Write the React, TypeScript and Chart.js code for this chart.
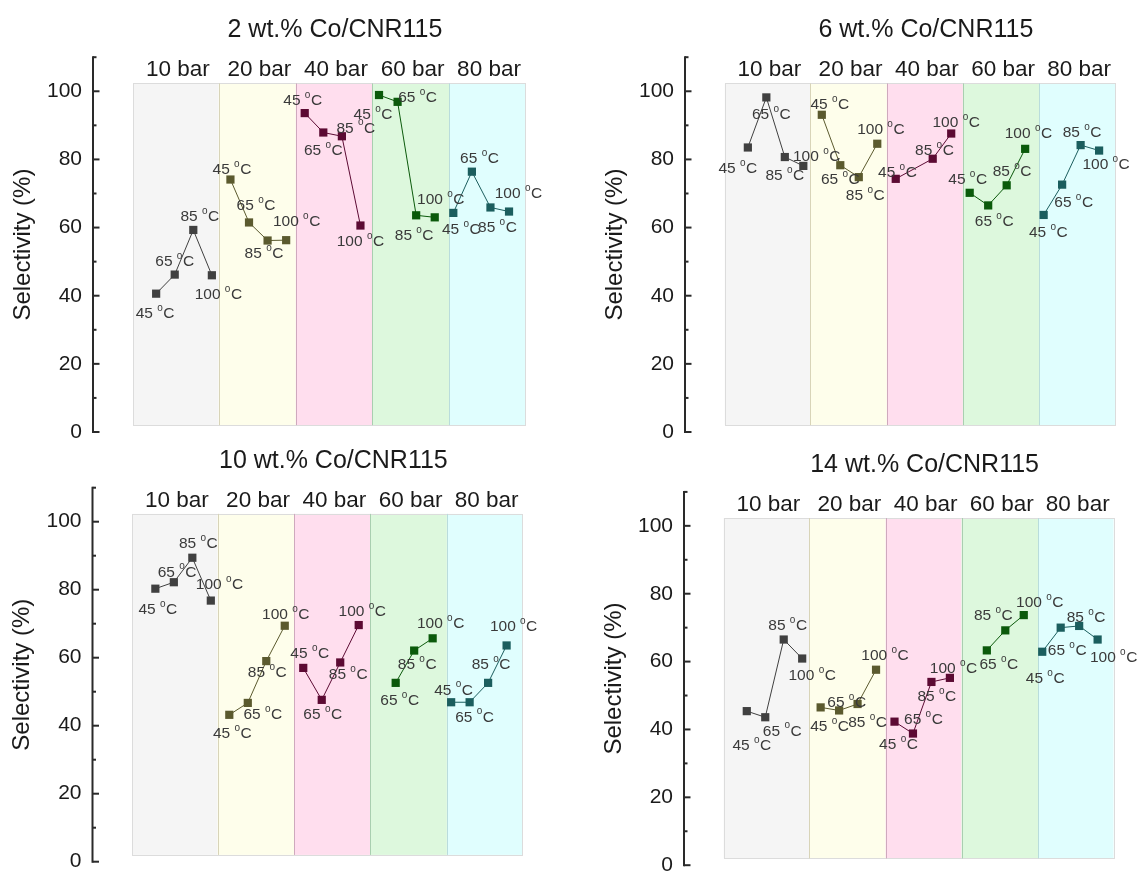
import React, { useEffect, useRef } from 'react';
import { Chart, registerables } from 'chart.js';

Chart.register(...registerables);

// ---------------- DATA ----------------
const pressures = ['10 bar', '20 bar', '40 bar', '60 bar', '80 bar'];
const temperatures = ['45', '65', '85', '100'];
const panelTitles = ['2 wt.% Co/CNR115', '6 wt.% Co/CNR115', '10 wt.% Co/CNR115', '14 wt.% Co/CNR115'];
const yAxisTitle = 'Selectivity (%)';
const yTickValues = [0, 20, 40, 60, 80, 100];
const yMinorValues = [10, 30, 50, 70, 90, 110];

// Selectivity (%), 4 temperatures (45, 65, 85, 100 °C) for each pressure in order 10, 20, 40, 60, 80 bar
const sel2wt = [40.6, 46.2, 59.3, 46.0, 74.1, 61.5, 56.2, 56.3, 93.6, 87.9, 86.8, 60.6, 98.9, 96.9, 63.6, 63.0, 64.3, 76.4, 65.9, 64.7];
const sel6wt = [83.5, 98.2, 80.7, 78.1, 93.1, 78.3, 74.8, 84.6, 74.3, null, 80.2, 87.6, 70.2, 66.5, 72.4, 83.1, 63.7, 72.6, 84.2, 82.6];
const sel10wt = [80.3, 82.2, 89.4, 76.8, 43.2, 46.7, 59.0, 69.4, 57.0, 47.6, 58.6, 69.6, null, 52.6, 62.1, 65.7, 46.9, 46.9, 52.6, 63.6];
const sel14wt = [45.4, 43.6, 66.5, 60.9, 46.5, 45.6, 47.5, 57.6, 42.3, 38.8, 54.0, 55.2, null, 63.3, 69.2, 73.7, 62.9, 70.0, 70.5, 66.5];
const panelValues: (number | null)[][] = [sel2wt, sel6wt, sel10wt, sel14wt];

// ---------------- LAYOUT / STYLE ----------------
const FONT = '"Liberation Sans", Arial, Helvetica, sans-serif';
const xMin = -2.4;
const xMax = 20.86;
const bandEdges = [-0.25, 4.37, 8.52, 12.63, 16.77, 20.86];
const bandRange = [2, 102.3];
const bandFills = ['#f5f5f5', '#fefeeb', '#ffdeee', '#ddf8dd', '#e0fefe'];
const bandLines = ['#c9c9c9', '#d8d4b8', '#cfa9bd', '#a9cfb0', '#b9dcdc'];
const markerColors = ['#404040', '#5b5a2e', '#5c0a33', '#0b5a0b', '#1b5e5e'];

const panelBoxes = [
  { axisX: 93, y0: 432, y110: 57.2, right: 525 },
  { axisX: 685, y0: 432, y110: 57.2, right: 1115 },
  { axisX: 92.5, y0: 861.7, y110: 487.7, right: 522.5 },
  { axisX: 684, y0: 866.7, y110: 491.9, right: 1113.5 },
];

// label offsets (px) from each point to the centre of its temperature label
const labelOffsets2 = [
  [-1, 20], [0, -13], [6.5, -13], [6.5, 19],
  [1.5, -10], [7, -17], [-3.6, 13], [10.5, -18],
  [-2, -12], [0, 18.7], [14, -8], [0, 16],
  [-6, 20], [20, -4], [-2, 20], [6, -18],
  [8, 17], [7.6, -13], [7, 20], [9.4, -18],
];
const labelOffsets6 = [
  [-10, 21.7], [5, 17], [0, 19], [13.4, -9],
  [8, -10], [0, 15], [6.5, 19], [3.6, -14],
  [1.7, -6], [0, 0], [1.7, -8], [5, -11],
  [-2, -13], [6, 16], [5.4, -14], [3.3, -15],
  [4.7, 18], [11.6, 18], [1.5, -12], [7, 14],
];
const labelOffsets10 = [
  [2.5, 21], [3.3, -10], [6, -14], [8.7, -16],
  [3, 19], [15, 12], [1, 12], [1, -11],
  [6.5, -14], [1, 15], [8, 12], [3.6, -13],
  [0, 0], [4, 18], [3, 14], [8, -15],
  [2.5, -12], [5, 15], [3, -18], [7, -19],
];
const labelOffsets14 = [
  [5, 35], [17, 14], [4, -14], [10, 17],
  [9, 19], [7.6, -8], [10, 19], [9, -14],
  [4, 23], [10.5, -14], [5.4, 15], [3.6, -9],
  [0, 0], [12, 14], [-12, -15], [16, -12],
  [3, 27], [6.5, 23], [7, -8], [16, 18],
];
const panelLabelOffsets = [labelOffsets2, labelOffsets6, labelOffsets10, labelOffsets14];

function drawTempLabel(ctx: CanvasRenderingContext2D, t: string, cx: number, cy: number) {
  const main = `15.5px ${FONT}`;
  const sup = `10px ${FONT}`;
  ctx.font = main;
  const w1 = ctx.measureText(t + ' ').width;
  const w3 = ctx.measureText('C').width;
  ctx.font = sup;
  const w2 = ctx.measureText('o').width + 0.5;
  let x = cx - (w1 + w2 + w3) / 2;
  ctx.textAlign = 'left';
  ctx.textBaseline = 'middle';
  ctx.fillStyle = '#3a3a3a';
  ctx.font = main;
  ctx.fillText(t + ' ', x, cy);
  x += w1;
  ctx.font = sup;
  ctx.fillText('o', x, cy - 5.5);
  x += w2;
  ctx.font = main;
  ctx.fillText('C', x, cy);
}

function buildConfig(pi: number): any {
  const values = panelValues[pi];
  const box = panelBoxes[pi];
  const offsets = panelLabelOffsets[pi];

  const datasets = pressures.map((p, g) => ({
    label: p,
    data: temperatures.map((t, k) => ({ x: g * 4 + k + 1, y: values[g * 4 + k] })),
    showLine: true,
    spanGaps: true,
    borderColor: markerColors[g],
    borderWidth: 1,
    backgroundColor: markerColors[g],
    pointStyle: 'rect',
    pointRadius: 5.8,
    pointBorderWidth: 0,
    pointBackgroundColor: markerColors[g],
    clip: false,
  }));

  const decor = {
    id: 'decor' + pi,
    beforeDatasetsDraw(chart: any) {
      const ctx = chart.ctx as CanvasRenderingContext2D;
      const xs = chart.scales.x;
      const ys = chart.scales.y;
      const top = ys.getPixelForValue(bandRange[1]);
      const bottom = ys.getPixelForValue(bandRange[0]);
      ctx.save();
      for (let g = 0; g < pressures.length; g++) {
        const l = xs.getPixelForValue(bandEdges[g]);
        const r = xs.getPixelForValue(bandEdges[g + 1]);
        ctx.fillStyle = bandFills[g];
        ctx.fillRect(l, top, r - l, bottom - top);
      }
      // outline
      ctx.strokeStyle = '#dcdcdc';
      ctx.lineWidth = 1;
      const L = xs.getPixelForValue(bandEdges[0]);
      const R = xs.getPixelForValue(bandEdges[bandEdges.length - 1]);
      ctx.strokeRect(Math.round(L) + 0.5, Math.round(top) + 0.5, Math.round(R - L), Math.round(bottom - top));
      for (let g = 1; g < pressures.length; g++) {
        const x = Math.round(xs.getPixelForValue(bandEdges[g])) + 0.5;
        ctx.strokeStyle = bandLines[g];
        ctx.beginPath();
        ctx.moveTo(x, top);
        ctx.lineTo(x, bottom);
        ctx.stroke();
      }
      // y axis line and inward ticks
      const ax = chart.chartArea.left;
      ctx.strokeStyle = '#2a2a2a';
      ctx.lineWidth = 2;
      ctx.beginPath();
      ctx.moveTo(ax, ys.getPixelForValue(0) + 1);
      ctx.lineTo(ax, ys.getPixelForValue(110) - 1);
      ctx.stroke();
      yTickValues.forEach((v) => {
        const y = ys.getPixelForValue(v);
        ctx.beginPath();
        ctx.moveTo(ax, y);
        ctx.lineTo(ax + 6.5, y);
        ctx.stroke();
      });
      yMinorValues.forEach((v) => {
        const y = ys.getPixelForValue(v);
        ctx.beginPath();
        ctx.moveTo(ax, y);
        ctx.lineTo(ax + 3.5, y);
        ctx.stroke();
      });
      // panel title
      const bandMid = (L + R) / 2;
      const y110 = ys.getPixelForValue(110);
      ctx.fillStyle = '#1a1a1a';
      ctx.textAlign = 'center';
      ctx.textBaseline = 'middle';
      ctx.font = `25px ${FONT}`;
      ctx.fillText(panelTitles[pi], bandMid + 6, y110 - 27);
      // pressure labels
      ctx.font = `22.5px ${FONT}`;
      for (let g = 0; g < pressures.length; g++) {
        const l = xs.getPixelForValue(bandEdges[g]);
        const r = xs.getPixelForValue(bandEdges[g + 1]);
        ctx.fillText(pressures[g], (l + r) / 2 + 2, y110 + 13);
      }
      // y axis title
      ctx.save();
      ctx.translate(ax - 70, ys.getPixelForValue(55));
      ctx.rotate(-Math.PI / 2);
      ctx.font = `24px ${FONT}`;
      ctx.fillText(yAxisTitle, 0, 0);
      ctx.restore();
      ctx.restore();
    },
    afterDatasetsDraw(chart: any) {
      const ctx = chart.ctx as CanvasRenderingContext2D;
      const xs = chart.scales.x;
      const ys = chart.scales.y;
      ctx.save();
      for (let i = 0; i < values.length; i++) {
        const v = values[i];
        if (v === null) continue;
        const px = xs.getPixelForValue(i + 1);
        const py = ys.getPixelForValue(v);
        const [dx, dy] = offsets[i];
        drawTempLabel(ctx, temperatures[i % 4], px + dx, py + dy);
      }
      ctx.restore();
    },
  };

  return {
    type: 'line',
    data: { datasets },
    options: {
      animation: false,
      responsive: false,
      maintainAspectRatio: false,
      events: [],
      layout: {
        padding: {
          left: box.axisX - 80,
          right: 1140 - box.right,
          top: box.y110,
          bottom: 871 - box.y0,
        },
      },
      plugins: {
        legend: { display: false },
        title: { display: false },
        tooltip: { enabled: false },
      },
      scales: {
        x: {
          type: 'linear',
          display: false,
          min: xMin,
          max: xMax,
        },
        y: {
          type: 'linear',
          position: 'left',
          min: 0,
          max: 110,
          grid: { display: false, drawTicks: false, tickLength: 0 },
          border: { display: false },
          ticks: {
            padding: 11,
            color: '#1a1a1a',
            font: { family: FONT, size: 21 },
          },
          afterBuildTicks(scale: any) {
            scale.ticks = yTickValues.map((v) => ({ value: v }));
          },
          afterFit(scale: any) {
            scale.width = 80;
            scale.paddingTop = 0;
            scale.paddingBottom = 0;
          },
        },
      },
    },
    plugins: [decor],
  };
}

export default function App() {
  const refs = useRef<(HTMLCanvasElement | null)[]>([]);
  useEffect(() => {
    const charts = panelTitles.map((_, i) => new Chart(refs.current[i] as HTMLCanvasElement, buildConfig(i)));
    return () => charts.forEach((c) => c.destroy());
  }, []);
  return (
    <div style={{ position: 'absolute', left: 0, top: 0, width: 1140, height: 871, background: '#ffffff', overflow: 'hidden' }}>
      {panelTitles.map((t, i) => (
        <canvas
          key={t}
          ref={(el) => { refs.current[i] = el; }}
          width={1140}
          height={871}
          style={{ position: 'absolute', left: 0, top: 0, width: 1140, height: 871 }}
        />
      ))}
    </div>
  );
}
